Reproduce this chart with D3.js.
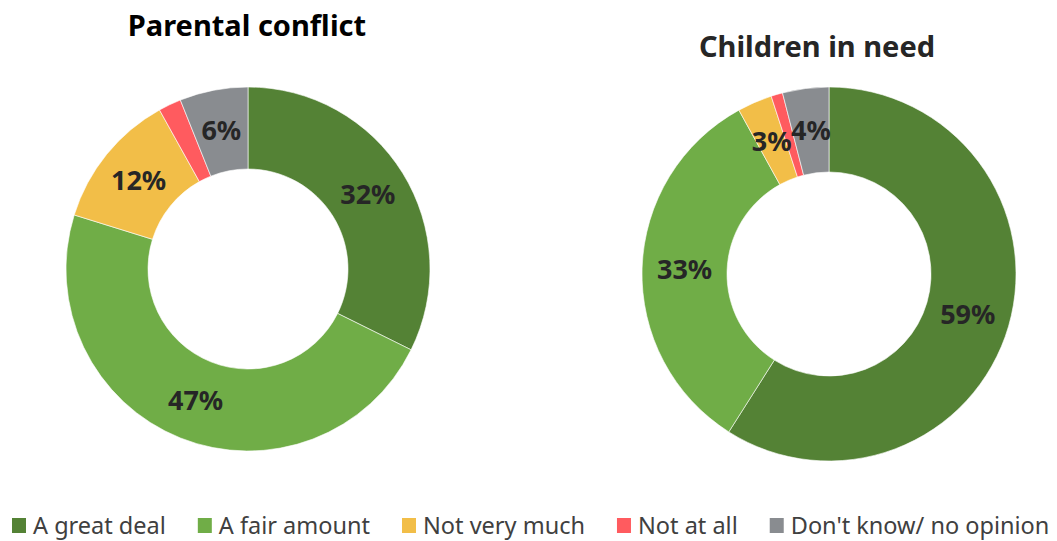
<!DOCTYPE html>
<html>
<head>
<meta charset="utf-8">
<script src="https://cdn.jsdelivr.net/npm/d3@7"></script>
<style>
  html, body { margin: 0; padding: 0; background: #fff; }
  svg { display: block; font-family: "Noto Sans", "Open Sans", sans-serif; }
</style>
</head>
<body>
<svg id="chart" width="1057" height="541"></svg>
<script>
// Response categories, shared by both donuts
const categories = ["A great deal", "A fair amount", "Not very much", "Not at all", "Don't know/ no opinion"];
const colors = ["#548235", "#70ad47", "#f2be48", "#ff5b5f", "#898c90"];

// Share of responses (%) for each topic
const parentalConflict = [32, 47, 12, 2, 6];
const childrenInNeed = [59, 33, 3, 1, 4];

// Which slices carry a percentage label
const parentalLabels = [true, true, true, false, true];
const childrenLabels = [true, true, true, false, true];

const svg = d3.select("#chart");
const color = d3.scaleOrdinal().domain(categories).range(colors);

const donuts = [
  { title: "Parental conflict", values: parentalConflict, labels: parentalLabels,
    cx: 248, cy: 269, outer: 182, inner: 100, titleY: 36, titleX: 247, titleColor: "#000" },
  { title: "Children in need", values: childrenInNeed, labels: childrenLabels,
    cx: 829, cy: 274, outer: 187, inner: 102, titleY: 57, titleX: 817, titleColor: "#262626" }
];

const pie = d3.pie().sort(null).value(d => d.value);

donuts.forEach(cfg => {
  const data = categories.map((c, i) => ({ category: c, value: cfg.values[i], label: cfg.labels[i] }));
  const arcs = pie(data);
  const arc = d3.arc().innerRadius(cfg.inner).outerRadius(cfg.outer);
  const g = svg.append("g").attr("transform", `translate(${cfg.cx},${cfg.cy})`);

  g.selectAll("path")
    .data(arcs)
    .join("path")
    .attr("d", arc)
    .attr("fill", d => color(d.data.category))
    .attr("stroke", "#fff")
    .attr("stroke-width", 0.6);

  g.selectAll("text")
    .data(arcs.filter(d => d.data.label))
    .join("text")
    .attr("transform", d => `translate(${arc.centroid(d)})`)
    .attr("text-anchor", "middle")
    .attr("dy", "0.36em")
    .attr("font-size", 27)
    .attr("font-weight", "bold")
    .attr("fill", "#262626")
    .text(d => `${d.data.value}%`);

  svg.append("text")
    .attr("x", cfg.titleX)
    .attr("y", cfg.titleY)
    .attr("text-anchor", "middle")
    .attr("font-size", 29)
    .attr("font-weight", "bold")
    .attr("fill", cfg.titleColor)
    .text(cfg.title);
});

// Legend along the bottom edge
const legend = svg.append("g").attr("transform", "translate(12,518)");
let x = 0;
categories.forEach(c => {
  const item = legend.append("g").attr("transform", `translate(${x},0)`);
  item.append("rect").attr("width", 14).attr("height", 15).attr("fill", color(c));
  const t = item.append("text")
    .attr("x", 21)
    .attr("y", 16)
    .attr("font-size", 23.5)
    .attr("fill", "#404040")
    .text(c);
  x += 21 + t.node().getComputedTextLength() + 32;
});
</script>
</body>
</html>
